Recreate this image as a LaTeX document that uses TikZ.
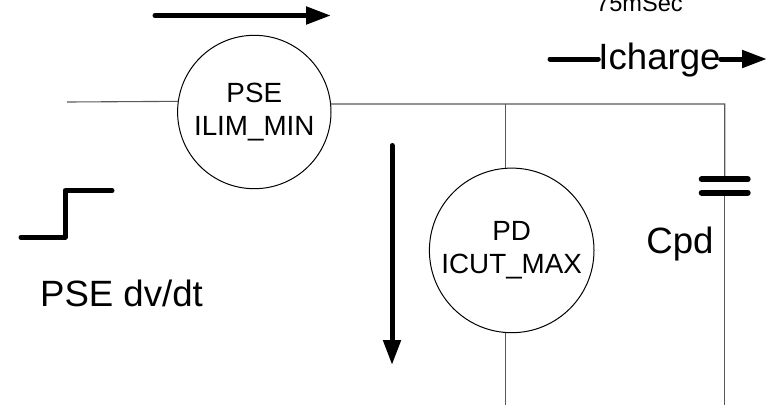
\documentclass[tikz,border=0pt]{standalone}
\usepackage{fontspec}
\setmainfont{Liberation Sans}
\usetikzlibrary{arrows.meta}
\tikzset{
  sink/.style = {circle,draw,line width = 1bp,inner sep = 0,outer sep = 0,align = center,font = \fontsize{27.8bp}{33bp}\selectfont},
  wire/.style = {draw = black!65,line width = 1.1bp},
  flow/.style = {line width = 5bp,line cap = round,-{Triangle[length = 25bp,width = 17bp]}},
  heavy/.style = {line width = 5bp,line cap = round},
  plate/.style = {line width = 6bp,line cap = round},
  bigLabel/.style = {inner sep = 0,font = \fontsize{36.6bp}{40bp}\selectfont}
}

\begin{document}
\begin{tikzpicture}[x = 1bp,y = -1bp]
    \useasboundingbox (0,0) rectangle (767,406);

    \node[sink,minimum size = 153.4bp](pse) at (254.3,112) {PSE\\ILIM\_MIN};
    \node[sink,minimum size = 164.6bp](pd) at (511.7,250.4) {PD\\ICUT\_MAX};

    \node[bigLabel,anchor = base](icharge) at (659.5,69) {Icharge};
    \node[bigLabel,anchor = base](cpd) at (680,253) {Cpd};
    \node[bigLabel,anchor = base](dvdt) at (121.5,306) {PSE dv/dt};
    \node[inner sep = 0,anchor = base,font = \fontsize{23.6bp}{26bp}\selectfont](delay) at (639.5,11) {75mSec};

    \coordinate (lineIn) at (67,102);
    \coordinate (junction) at (505.7,104);
    \coordinate (corner) at (724.7,104);
    \coordinate (plateTop) at (724.7,179.3);
    \coordinate (plateBottom) at (724.7,192.7);
    \coordinate (pdReturn) at (505.7,405);
    \coordinate (cpdReturn) at (724.7,405);

    \draw [wire] (lineIn) -- (pse.172.5);
    \draw [wire] (pse.6) -- (corner) -- (plateTop);
    \draw [wire] (plateBottom) -- (cpdReturn);
    \draw [wire] (junction) -- (junction |- pd.north);
    \draw [wire] (junction |- pd.south) -- (pdReturn);

    \draw [plate] ([xshift = -23bp]plateTop) -- ([xshift = 23bp]plateTop);
    \draw [plate] ([xshift = -23bp]plateBottom) -- ([xshift = 23bp]plateBottom);

    \coordinate (topStart) at (155,15.5);
    \coordinate (topEnd) at (331,15.5);
    \coordinate (downStart) at (392,145.5);
    \coordinate (downEnd) at (392,365);
    \coordinate (chargeStart) at (550,59);
    \coordinate (chargeEnd) at (767,59);

    \draw [flow] (topStart) -- (topEnd);
    \draw [flow] (downStart) -- (downEnd);
    \draw [heavy] (chargeStart) -- (icharge.west |- chargeStart);
    \draw [flow] (icharge.east |- chargeEnd) -- (chargeEnd);

    \draw [heavy,line join = round] (21,237.3) -- (65,237.3) -- (65,190.7) -- (112,190.7);
\end{tikzpicture}
\end{document}
